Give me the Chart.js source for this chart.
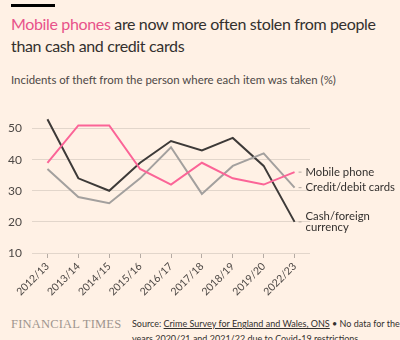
<!DOCTYPE html>
<html>
<head>
<meta charset="utf-8">
<script src="https://cdn.jsdelivr.net/npm/chart.js@4"></script>
<style>
  html, body { margin: 0; padding: 0; }
  body {
    width: 400px; height: 340px; overflow: hidden; position: relative;
    background: #fff1e5; font-family: Lato, "Noto Sans", sans-serif; color: #33302e;
  }
  .bar { position: absolute; left: 11px; top: 4px; width: 44px; height: 3px; background: #000; }
  .title { position: absolute; left: 11px; top: 13px; white-space: nowrap; font-size: 16px; letter-spacing: -0.35px; line-height: 22px; }
  .title span { color: #e8538a; }
  .sub { position: absolute; left: 11px; top: 73px; font-size: 11.4px; color: #4d4845; }
  .ft { position: absolute; left: 11px; top: 317px; font-family: "Liberation Serif", serif; font-size: 12.5px; color: #9e958e; letter-spacing: 0.2px; }
  .src { position: absolute; left: 132px; top: 316px; width: 268px; white-space: nowrap; font-size: 9px; line-height: 15px; color: #33302e; }
  .src u { text-decoration: underline; }
  canvas { position: absolute; left: 0; top: 0; }
</style>
</head>
<body>
<div class="bar"></div>
<div class="title"><span>Mobile phones</span> are now more often stolen from people<br>than cash and credit cards</div>
<div class="sub">Incidents of theft from the person where each item was taken (%)</div>
<div class="ft">FINANCIAL TIMES</div>
<div class="src">Source: <u>Crime Survey for England and Wales, ONS</u> • No data for the<br>years 2020/21 and 2021/22 due to Covid-19 restrictions</div>
<canvas id="chart" width="400" height="340"></canvas>
<script>
const years = ['2012/13', '2013/14', '2014/15', '2015/16', '2016/17', '2017/18', '2018/19', '2019/20', '2022/23'];
const mobilePhone = [39, 51, 51, 37, 32, 39, 34, 32, 36];
const creditCards = [37, 28, 26, 34, 44, 29, 38, 42, 31];
const cashCurrency = [53, 34, 30, 39, 46, 43, 47, 38, 20];
const yTicks = [10, 20, 30, 40, 50];

const seriesNames = [['Mobile phone'], ['Credit/debit cards'], ['Cash/foreign', 'currency']];
const FONT = 'Lato, "Noto Sans", sans-serif';

// labels at the end of each line
const endLabels = {
    id: 'endLabels',
    afterDatasetsDraw(chart) {
        const c = chart.ctx;
        c.save();
        c.font = '11.3px ' + FONT;
        c.textBaseline = 'middle';
        chart.data.datasets.forEach((ds, i) => {
            const pt = chart.getDatasetMeta(i).data[ds.data.length - 1];
            const lines = seriesNames[i];
            const x = pt.x + 11;
            c.strokeStyle = '#b5aba3';
            c.lineWidth = 1;
            c.beginPath();
            c.moveTo(pt.x + 4, pt.y);
            c.lineTo(pt.x + 7, pt.y);
            c.stroke();
            c.fillStyle = '#33302e';
            const y0 = pt.y - (lines.length - 1) * 5.5;
            lines.forEach((t, j) => c.fillText(t, x, y0 + j * 11));
        });
        c.restore();
    }
};

new Chart(document.getElementById('chart'), {
    type: 'line',
    data: {
        labels: years,
        datasets: [
            { data: mobilePhone, borderColor: '#fb6497', borderWidth: 2 },
            { data: creditCards, borderColor: '#a3a09e', borderWidth: 2 },
            { data: cashCurrency, borderColor: '#3d3a38', borderWidth: 2 }
        ]
    },
    options: {
        responsive: false,
        animation: false,
        layout: { padding: { top: 113, right: 90, left: 0, bottom: 0 } },
        elements: { point: { radius: 0 }, line: { tension: 0 } },
        plugins: { legend: { display: false }, tooltip: { enabled: false } },
        scales: {
            x: {
                offset: true,
                afterFit: s => { s.height = 87; },
                border: { display: false },
                grid: { drawOnChartArea: false, drawTicks: true, tickLength: 5, color: '#b5aba3' },
                ticks: {
                    minRotation: 45, maxRotation: 45, padding: 2,
                    color: '#4d4845', font: { size: 10.5, family: FONT }
                }
            },
            y: {
                min: 10, max: 55,
                afterFit: s => { s.width = 32; },
                afterBuildTicks: s => { s.ticks = yTicks.map(v => ({ value: v })); },
                border: { display: false },
                grid: { drawTicks: false, color: '#e2d6cb' },
                ticks: {
                    padding: 10,
                    color: '#4d4845', font: { size: 12, family: FONT }
                }
            }
        }
    },
    plugins: [endLabels]
});
</script>
</body>
</html>
